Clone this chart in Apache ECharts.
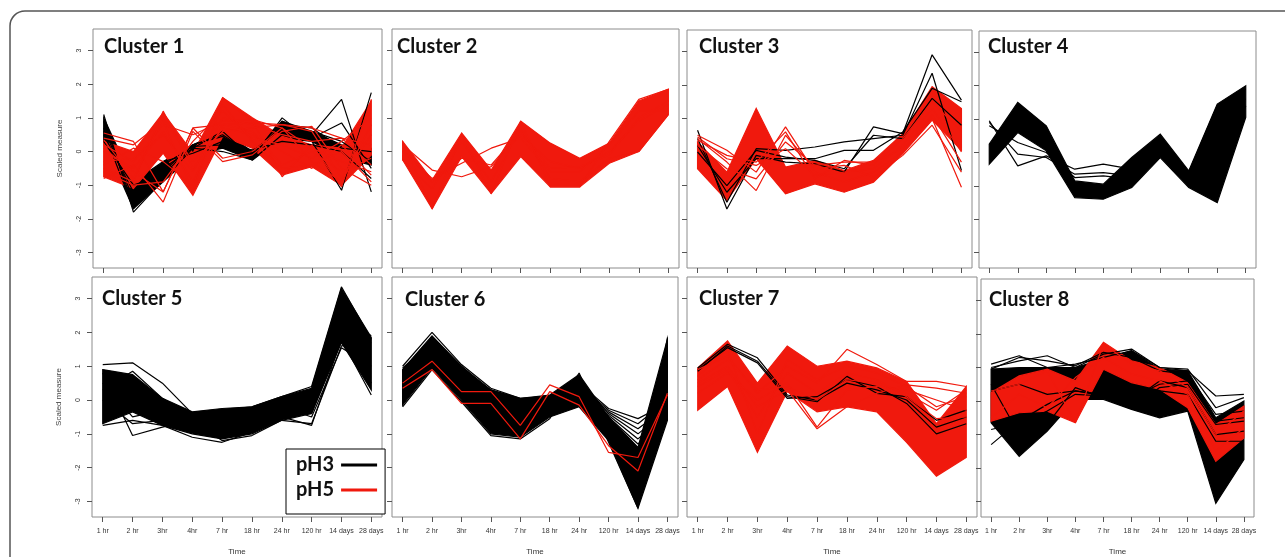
<!DOCTYPE html>
<html><head><meta charset="utf-8">
<script src="https://cdn.jsdelivr.net/npm/echarts@6/dist/echarts.min.js"></script>
<style>html,body{margin:0;padding:0;background:#fff}#c{width:1285px;height:557px}</style>
</head><body><div id="c"></div>
<script>
const RED = '#f0190d';
const timeLabels = ['1 hr','2 hr','3hr','4hr','7 hr','18 hr','24 hr','120 hr','14 days','28 days'];
const yTicks = [-3,-2,-1,0,1,2,3];
const clusterNames = ['Cluster 1','Cluster 2','Cluster 3','Cluster 4','Cluster 5','Cluster 6','Cluster 7','Cluster 8'];

// Cluster 1
const c1BlackUpper = [1.0, -0.9, -0.3, 0.2, 0.6, 0.0, 0.9, 0.6, 0.2, 0.1];
const c1BlackLower = [0.3, -1.7, -0.9, -0.1, 0.1, -0.25, 0.4, 0.3, -0.2, -0.4];
const c1BlackLines = [
 [1.1, -1.8, -0.85, 0.1, 0.6, -0.2, 1.0, 0.3, -1.15, 1.75],
 [0.9, -1.6, -0.6, 0.2, 0.5, -0.1, 0.9, 0.5, 1.55, -1.2],
 [0.7, -1.4, -0.3, -0.05, 0.3, 0.0, 0.7, 0.6, 0.3, -0.3],
 [0.5, -1.2, -0.5, 0.1, 0.0, -0.25, 0.5, 0.4, 0.85, -0.5],
 [0.3, -1.0, -0.7, 0.2, 0.45, -0.1, 0.8, 0.7, 0.1, 0.0],
 [0.6, -1.7, -0.4, 0.15, 0.2, 0.05, 0.3, 0.2, 0.0, -0.8]];
const c1RedUpper = [0.3, 0.0, 1.15, -0.05, 1.6, 1.0, 0.45, 0.2, 0.1, 1.5];
const c1RedLower = [-0.75, -1.1, -0.05, -1.3, 0.45, 0.1, -0.7, -0.45, -1.0, -0.1];
const c1RedLines = [
 [0.55, 0.3, -1.2, 0.7, 0.8, 0.85, 0.8, 0.7, 0.4, 0.2],
 [-0.8, -0.4, -1.5, 0.6, -0.3, -0.1, 0.6, 0.75, -0.5, -1.0],
 [0.4, 0.2, 0.9, -1.2, 1.6, 0.9, -0.75, 0.2, -1.05, 1.55],
 [-0.5, -0.9, 1.2, -0.5, 0.7, 0.5, 0.0, -0.5, 0.2, -0.7],
 [0.1, -0.6, -1.2, 0.7, -0.2, 0.0, 0.7, -0.3, -0.9, 0.8],
 [-0.3, -0.2, 0.5, -0.6, 1.0, 0.8, 0.5, 0.3, 0.4, -0.4],
 [0.0, -0.5, 0.6, -0.9, 0.8, 0.6, -0.4, 0.0, -0.6, -0.2],
 [0.2, -0.3, 0.8, 0.5, 0.9, 0.95, 0.7, 0.1, -0.3, -0.6],
 [-0.6, -1.0, -0.9, 0.3, 1.2, 0.4, 0.2, -0.2, 0.3, 1.0],
 [0.35, -0.8, 1.0, -0.3, 0.6, 0.7, 0.8, 0.6, -0.8, 0.5],
 [-0.4, 0.1, -0.3, -1.0, 1.4, 0.3, -0.5, -0.4, 0.0, -0.9]];

// Cluster 2
const c2RedUpper = [0.3, -0.85, 0.55, -0.55, 0.9, 0.25, -0.2, 0.25, 1.5, 1.85];
const c2RedLower = [-0.25, -1.7, -0.15, -1.25, -0.15, -1.05, -1.05, -0.35, 0.0, 1.1];
const c2RedLines = [
 [0.2, -0.55, -0.75, -0.45, 0.5, -0.3, -0.5, 0.0, 0.9, 1.4],
 [0.1, -0.9, -0.2, -0.4, 0.6, -0.5, -0.45, -0.1, 1.0, 1.5],
 [0.0, -0.8, -0.35, 0.1, 0.4, -0.6, -0.6, 0.2, 1.2, 1.2],
 [0.3, -1.7, 0.5, -1.25, 0.9, -1.05, -1.05, 0.3, 1.55, 1.85],
 [-0.25, -1.1, 0.3, -0.9, 0.7, -0.8, -0.9, -0.2, 0.0, 1.1]];

// Cluster 3
const c3BlackLines = [
 [0.65, -1.7, -0.1, -0.3, -0.35, -0.6, 0.75, 0.55, 2.9, 1.55],
 [0.4, -1.5, 0.1, 0.05, 0.15, 0.3, 0.4, 0.5, 2.35, -0.55],
 [0.2, -1.2, -0.2, -0.2, -0.2, 0.05, 0.05, 0.6, 1.9, 1.5],
 [0.0, -1.0, 0.05, -0.15, -0.25, -0.5, 0.5, 0.4, 1.6, 0.8]];
const c3RedUpper = [0.3, -0.6, 1.3, -0.45, -0.25, -0.55, -0.25, 0.55, 1.95, 1.3];
const c3RedLower = [-0.5, -1.45, -0.2, -1.25, -0.95, -1.2, -0.9, -0.05, 0.95, 0.05];
const c3RedLines = [
 [0.5, 0.05, -0.6, 0.75, -0.6, -0.9, -0.6, 0.0, 1.0, -1.05],
 [0.4, -0.3, -1.15, 0.5, -0.5, -0.4, -0.75, -0.1, 0.8, -0.6],
 [0.2, -0.5, -0.8, 0.3, -0.4, -0.3, -0.3, 0.1, 1.1, -0.3],
 [0.45, -0.2, -0.4, 0.1, -0.7, -0.6, -0.5, 0.2, 1.3, 0.0],
 [0.35, -0.1, -0.3, 0.6, -0.8, -0.25, -0.4, 0.4, 1.5, 0.6]];

// Cluster 4
const c4BlackUpper = [0.25, 1.5, 0.8, -0.85, -0.95, -0.15, 0.55, -0.55, 1.45, 2.0];
const c4BlackLower = [-0.35, 0.6, 0.05, -1.35, -1.4, -1.05, -0.15, -1.05, -1.5, 1.05];
const c4BlackLines = [
 [0.95, -0.4, -0.1, -0.5, -0.35, -0.5, 0.3, -0.6, 1.4, 1.9],
 [0.9, -0.05, -0.15, -0.65, -0.6, -0.7, 0.1, -0.8, 1.3, 1.6],
 [0.8, 0.3, 0.0, -0.75, -0.7, -0.8, 0.2, -0.9, -1.0, 1.4]];

// Cluster 5
const c5BlackUpper = [0.9, 0.75, 0.05, -0.35, -0.25, -0.2, 0.1, 0.35, 3.3, 1.85];
const c5BlackLower = [-0.7, -0.35, -0.75, -1.0, -1.15, -1.0, -0.6, -0.4, 1.7, 0.3];
const c5BlackLines = [
 [1.05, 1.1, 0.5, -0.4, -0.5, -0.6, 0.0, 0.2, 2.5, 1.9],
 [0.8, -1.05, -0.8, -0.6, -1.2, -1.05, -0.6, -0.7, 1.6, 1.7],
 [-0.75, -0.6, -0.75, -1.1, -1.25, -0.95, -0.5, -0.75, 1.8, 0.15],
 [0.5, -0.5, -0.3, -0.8, -1.0, -0.8, -0.4, -0.4, 1.9, 0.5],
 [0.3, 0.85, 0.05, -0.5, -0.3, -0.2, 0.1, 0.4, 3.35, 1.8],
 [0.0, -0.7, -0.6, -0.7, -0.9, -0.6, -0.2, -0.5, 1.55, 1.0]];

// Cluster 6
const c6BlackUpper = [0.9, 1.9, 1.0, 0.3, 0.05, 0.15, 0.75, -0.5, -1.4, 1.8];
const c6BlackLower = [-0.15, 0.95, 0.0, -1.0, -1.1, -0.5, -0.2, -1.2, -3.2, -0.6];
const c6BlackLines = [
 [1.0, 2.0, 1.05, 0.35, 0.05, 0.1, 0.5, -0.25, -0.55, -0.1],
 [0.95, 1.7, 0.9, 0.3, 0.0, 0.0, 0.45, -0.3, -0.7, 0.0],
 [0.8, 1.55, 0.8, 0.25, -0.1, -0.1, 0.4, -0.35, -0.85, -0.2],
 [0.9, 1.8, 1.0, 0.2, 0.0, 0.05, 0.55, -0.4, -1.0, -0.3],
 [0.7, 1.4, 0.7, 0.1, -0.15, -0.05, 0.35, -0.45, -1.15, -0.4],
 [0.6, 1.3, 0.6, 0.15, -0.2, -0.15, 0.3, -0.5, -1.3, -0.5],
 [-0.2, 0.9, -0.05, -1.05, -1.15, -0.55, 0.8, -1.25, -3.2, 1.85]];
const c6RedLines = [
 [0.5, 1.15, 0.25, 0.25, -0.75, 0.45, 0.1, -1.55, -1.7, 0.15],
 [0.35, 0.9, -0.1, -0.1, -1.15, 0.25, -0.15, -1.35, -2.1, 0.2]];

// Cluster 7
const c7BlackLines = [
 [0.95, 1.65, 1.25, 0.15, 0.0, 0.5, 0.3, 0.0, -0.8, -0.5],
 [0.9, 1.55, 1.1, 0.05, 0.1, 0.6, 0.4, -0.1, -1.0, -0.7],
 [0.85, 1.6, 1.15, 0.1, -0.05, 0.7, 0.2, 0.1, -0.6, -0.3]];
const c7RedUpper = [0.95, 1.75, 0.5, 1.6, 1.0, 1.15, 0.95, 0.55, -0.7, 0.4];
const c7RedLower = [-0.3, 0.4, -1.55, 0.25, -0.35, -0.2, -0.35, -1.25, -2.25, -1.7];
const c7RedLines = [
 [0.9, 1.3, 0.2, 1.0, 0.5, 1.5, 1.05, 0.55, 0.55, 0.4],
 [0.5, 1.0, -0.2, 0.3, -0.85, -0.2, 0.2, 0.45, 0.35, 0.2],
 [0.2, 0.8, 0.0, 0.5, -0.8, 0.3, 0.4, 0.3, 0.0, -0.3],
 [0.6, 1.2, 0.3, 0.4, 0.0, 0.6, 0.5, 0.2, -0.3, 0.3],
 [0.4, 0.9, -0.5, 0.8, 0.2, 0.8, 0.6, 0.1, -0.55, -0.5],
 [0.7, 1.5, -1.0, 1.2, 0.6, 1.0, 0.8, 0.4, -0.2, 0.1]];

// Cluster 8
const c8BlackUpper = [0.95, 1.0, 1.0, 1.0, 1.25, 1.5, 0.95, 0.9, -0.5, 0.0];
const c8BlackLower = [-0.65, -1.65, -0.9, 0.05, 0.05, -0.25, -0.5, -0.3, -3.05, -1.75];
const c8BlackLines = [
 [1.1, 1.35, 1.0, 1.1, 1.3, 1.5, 1.0, 0.9, 0.15, 0.2],
 [1.0, 1.2, 1.35, 1.0, 1.4, 1.55, 1.0, 0.95, -0.2, 0.1],
 [0.95, 1.3, 1.2, 1.05, 1.45, 1.3, 0.9, 0.8, -0.4, -0.3],
 [-1.3, -0.6, -0.1, 0.3, 0.2, 0.1, 0.5, 0.6, -0.6, -0.5],
 [-0.85, -0.65, -0.3, 0.2, 0.15, -0.2, 0.4, 0.5, -0.7, -0.6],
 [0.3, 0.5, 0.2, 0.3, 0.15, 0.0, 0.6, 0.4, -1.0, -0.9],
 [0.5, -1.0, -0.7, 0.4, 0.1, -0.15, 0.3, 0.2, -1.2, -1.2]];
const c8RedUpper = [0.25, 0.75, 0.95, 0.6, 1.75, 1.2, 1.0, 0.55, -0.7, -0.15];
const c8RedLower = [-0.6, -0.35, -0.3, -0.65, 0.95, 0.55, 0.35, -0.2, -1.8, -1.1];
const c8RedLines = [
 [0.3, 0.5, 0.9, -0.65, 1.7, 1.1, 0.9, 0.4, -1.0, -0.3],
 [-0.5, 0.2, -0.2, 0.7, 1.3, 0.8, 0.6, 0.2, -1.5, -0.8]];

const panels = [
 {black:{upper:c1BlackUpper, lower:c1BlackLower, lines:c1BlackLines}, red:{upper:c1RedUpper, lower:c1RedLower, lines:c1RedLines}},
 {black:null, red:{upper:c2RedUpper, lower:c2RedLower, lines:c2RedLines}},
 {black:{lines:c3BlackLines}, red:{upper:c3RedUpper, lower:c3RedLower, lines:c3RedLines}},
 {black:{upper:c4BlackUpper, lower:c4BlackLower, lines:c4BlackLines}, red:null},
 {black:{upper:c5BlackUpper, lower:c5BlackLower, lines:c5BlackLines}, red:null},
 {black:{upper:c6BlackUpper, lower:c6BlackLower, lines:c6BlackLines}, red:{lines:c6RedLines}},
 {black:{lines:c7BlackLines}, red:{upper:c7RedUpper, lower:c7RedLower, lines:c7RedLines}},
 {black:{upper:c8BlackUpper, lower:c8BlackLower, lines:c8BlackLines}, red:{upper:c8RedUpper, lower:c8RedLower, lines:c8RedLines}}
];

const gridPos = [
 {left:93, top:29, width:289, height:239},
 {left:392, top:29, width:287, height:239},
 {left:687, top:30, width:285, height:238},
 {left:979, top:31, width:277, height:237},
 {left:92, top:277, width:290, height:241},
 {left:392, top:277, width:286, height:241},
 {left:687, top:277, width:290, height:241},
 {left:981, top:279, width:273, height:239}
];
const titlePos = [[104,37],[397,37],[699,37],[988,37],[102,289],[405,290],[699,289],[989,290]];

const idx = timeLabels.map((_, i) => i);
const grids = [], xAxes = [], yAxes = [], series = [], titles = [];

function band(upper, lower, color, gi, name) {
  return {
    type:'custom', name, xAxisIndex:gi, yAxisIndex:gi, silent:true, animation:false,
    data:[[0,0]],
    renderItem:(params, api) => {
      const pts = [];
      upper.forEach((v,i) => pts.push(api.coord([i, v])));
      for (let i = lower.length - 1; i >= 0; i--) pts.push(api.coord([i, lower[i]]));
      return {type:'polygon', shape:{points:pts}, style:{fill:color, stroke:color, lineWidth:1.2, lineJoin:'miter'}};
    }
  };
}
function line(vals, color, gi, name) {
  return {
    type:'line', name, xAxisIndex:gi, yAxisIndex:gi, silent:true, animation:false,
    symbol:'none', showSymbol:false, color,
    lineStyle:{color, width:1.2},
    data: vals.map((v,i) => [i, v])
  };
}

panels.forEach((p, gi) => {
  const bottomRow = gi >= 4, leftCol = gi % 4 === 0;
  grids.push(Object.assign({show:true, borderColor:'#8c8c8c', borderWidth:1, backgroundColor:'#fff'}, gridPos[gi]));
  xAxes.push({
    type:'value', gridIndex:gi, min:-0.36, max:9.36, position:'bottom',
    axisLine:{show:false, onZero:false}, splitLine:{show:false},
    axisTick:{show:true, customValues:idx, length:5, lineStyle:{color:'#555'}},
    axisLabel:{show:bottomRow, customValues:idx, formatter:v => timeLabels[Math.round(v)], fontSize:7, color:'#333', margin:11, fontFamily:'Liberation Sans'},
    name: bottomRow ? 'Time' : '', nameLocation:'middle', nameGap:31,
    nameTextStyle:{fontSize:8, color:'#333', fontFamily:'Liberation Sans'}
  });
  yAxes.push({
    type:'value', gridIndex:gi, min:-3.46, max:3.64, position:'left',
    axisLine:{show:false, onZero:false}, splitLine:{show:false},
    axisTick:{show:true, customValues:yTicks, length:5, lineStyle:{color:'#555'}},
    axisLabel:{show:leftCol, customValues:yTicks, rotate:90, fontSize:7, color:'#333', margin:10, fontFamily:'Liberation Sans'},
    name: leftCol ? 'Scaled measure' : '', nameLocation:'middle', nameGap:29, nameRotate:90,
    nameTextStyle:{fontSize:8, color:'#444', fontFamily:'Liberation Sans'}
  });
  titles.push({text:clusterNames[gi], left:titlePos[gi][0], top:titlePos[gi][1], padding:0,
    textStyle:{fontFamily:'Lato', fontWeight:'bold', fontSize:20, color:'#111'}});
  if (p.black) {
    if (p.black.upper) series.push(band(p.black.upper, p.black.lower, '#000', gi, 'pH3 band'));
    p.black.lines.forEach(l => series.push(line(l, '#000', gi, 'pH3')));
  }
  if (p.red) {
    if (p.red.upper) series.push(band(p.red.upper, p.red.lower, RED, gi, 'pH5 band'));
    p.red.lines.forEach(l => series.push(line(l, RED, gi, 'pH5')));
  }
});

const chart = echarts.init(document.getElementById('c'), null, {renderer:'canvas'});
chart.setOption({
  animation:false,
  backgroundColor:'#fff',
  title: titles,
  grid: grids, xAxis: xAxes, yAxis: yAxes, series,
  legend: {
    data:[{name:'pH3'},{name:'pH5'}], selectedMode:false,
    orient:'vertical', align:'right', left:286, top:449,
    width:96, itemWidth:36, itemHeight:3, itemGap:5, icon:'rect',
    padding:[6,8,14,10], backgroundColor:'#fff', borderColor:'#000', borderWidth:1,
    textStyle:{fontFamily:'Lato', fontWeight:'bold', fontSize:20, color:'#111', padding:[0,2,0,0]}
  },
  graphic: [{
    type:'rect', silent:true, z:100,
    shape:{x:10, y:11, width:1400, height:700, r:[15,0,0,0]},
    style:{fill:'none', stroke:'#555', lineWidth:1.5}
  }]
});
</script>
</body></html>
